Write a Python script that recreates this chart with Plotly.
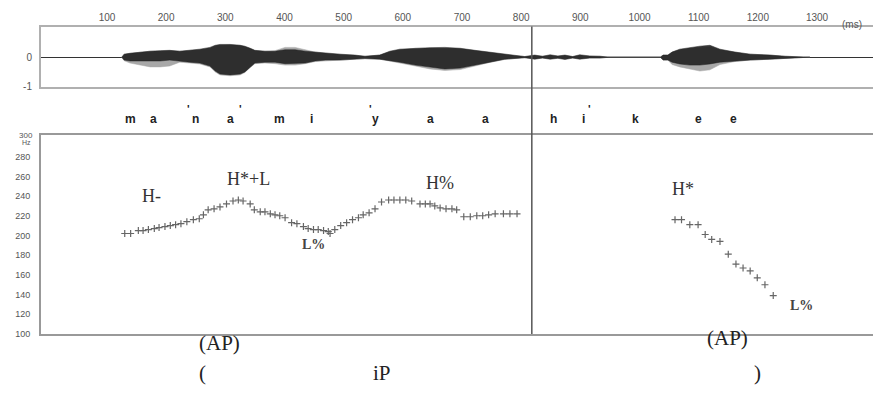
import plotly.graph_objects as go

W, H = 873, 407

# ---- time axis (ms) ----
time_ticks = [100, 200, 300, 400, 500, 600, 700, 800, 900, 1000, 1100, 1200, 1300]
x_range = [-11.5, 1394.6]
boundary_ms = 818  # intonation-phrase boundary

# ---- waveform envelope (ms, normalised amplitude) ----
wave_t = [125, 129, 139, 156, 173, 190, 206, 223, 240, 257, 274, 283, 291, 308, 325, 333,
          342, 350, 367, 384, 401, 418, 435, 452, 469, 494, 519, 536, 561, 578, 595, 621,
          646, 671, 697, 722, 747, 772, 789, 806, 823, 836, 849, 862, 874, 887, 899, 916,
          933, 950, 1035, 1040, 1048, 1055, 1068, 1085, 1102, 1119, 1136, 1161, 1187, 1220,
          1246, 1288]
dark_hi = [0, .10, .13, .17, .20, .22, .23, .20, .23, .27, .33, .40, .43, .43, .40, .37,
           .30, .23, .20, .20, .25, .25, .20, .17, .13, .10, .07, .03, .07, .20, .27, .30,
           .32, .33, .30, .23, .17, .10, .05, .02, .07, .03, .08, .04, .07, .02, .08, .04,
           .03, 0, 0, .07, .07, .17, .27, .33, .37, .40, .27, .17, .10, .07,
           .03, 0]
dark_lo = [0, -.10, -.13, -.13, -.13, -.13, -.10, -.13, -.17, -.20, -.30, -.47, -.57, -.60, -.57, -.50,
           -.33, -.20, -.17, -.17, -.22, -.22, -.20, -.13, -.10, -.10, -.07, -.05, -.07, -.13, -.17, -.27,
           -.33, -.40, -.37, -.27, -.17, -.07, -.05, -.02, -.07, -.03, -.07, -.04, -.08, -.03, -.07, -.03,
           -.03, 0, 0, -.10, -.10, -.17, -.23, -.27, -.27, -.23, -.17, -.13, -.10, -.07,
           -.03, 0]
light_hi = [0, .10, .13, .17, .20, .20, .22, .20, .22, .25, .30, .37, .40, .42, .40, .35,
            .30, .22, .20, .22, .33, .33, .25, .17, .13, .10, .07, .03, .07, .18, .25, .30,
            .30, .30, .28, .22, .15, .10, .05, .02, .05, .03, .05, .03, .05, .02, .05, .03,
            .03, 0, 0, .07, .07, .17, .25, .30, .33, .35, .25, .17, .10, .07,
            .03, 0]
light_lo = [0, -.12, -.20, -.27, -.33, -.33, -.30, -.17, -.20, -.23, -.33, -.50, -.60, -.63, -.60, -.52,
            -.35, -.22, -.20, -.22, -.27, -.27, -.22, -.15, -.12, -.10, -.07, -.05, -.07, -.15, -.20, -.30,
            -.40, -.45, -.42, -.30, -.18, -.08, -.05, -.02, -.05, -.03, -.05, -.03, -.05, -.03, -.05, -.03,
            -.03, 0, 0, -.10, -.10, -.25, -.33, -.40, -.47, -.43, -.25, -.15, -.10, -.07,
            -.03, 0]

# ---- F0 track (ms, Hz) ----
f0_t_a = [130, 140, 153, 161, 170, 180, 188, 198, 207, 216, 225, 235, 246, 256, 263, 271,
          281, 291, 302, 313, 322, 330, 342, 349, 359, 367, 376, 384, 392, 401, 412, 421,
          432, 440, 449, 457, 466, 474, 477, 485, 495, 505, 515, 525, 533, 543, 553, 564,
          576, 585, 595, 605, 615, 629, 638, 646, 654, 663, 673, 683, 691, 703, 714, 725,
          735, 745, 756, 770, 781, 793]
f0_hz_a = [202, 202, 205, 205, 206, 207, 208, 209, 210, 211, 212, 214, 216, 217, 221, 226,
           227, 229, 232, 235, 236, 235, 232, 226, 224, 224, 222, 221, 220, 218, 213, 212,
           209, 207, 206, 206, 205, 204, 202, 206, 210, 213, 216, 218, 221, 223, 227, 234,
           236, 236, 236, 236, 235, 232, 232, 232, 230, 228, 227, 227, 226, 219, 219, 220,
           220, 221, 222, 222, 222, 222]
f0_t_b = [1060, 1071, 1085, 1099, 1111, 1122, 1136, 1150, 1163, 1175, 1187, 1199, 1212, 1226]
f0_hz_b = [216, 216, 211, 211, 201, 196, 194, 181, 171, 167, 164, 157, 150, 139]
f0_ticks = list(range(100, 301, 20))

# ---- segmental transcription ----
seg_text = ["m", "a", "n", "a", "m", "i", "y", "a", "a", "h", "i", "k", "e", "e"]
seg_t = [139, 179, 249, 308, 392, 445, 553, 646, 739, 854, 905, 994, 1099, 1158]
stress_t = [237, 325, 545, 915]

# ---- tonal labels (ms, Hz) ----
tone_text = ["H-", "H*+L", "H%", "H*"]
tone_t = [176, 339, 663, 1073]
tone_hz = [240, 257, 253, 247]
bound_text = ["L%", "L%"]
bound_t = [449, 1274]
bound_hz = [191, 129]

# ---- prosodic phrasing ----
phrase_text = ["(AP)", "(AP)", "(", "iP", ")"]
phrase_t = [291, 1148, 261, 565, 1200]
phrase_py = [362, 357, 393, 393, 393]


def py(pixel_y):
    return 1 - pixel_y / H


fig = go.Figure()

# waveform: lighter channel underneath, darker on top
fig.add_trace(go.Scatter(
    x=wave_t + wave_t[::-1], y=light_hi + light_lo[::-1],
    fill="toself", fillcolor="#a8a8a8", line=dict(color="#a8a8a8", width=0.5),
    mode="lines", hoverinfo="skip", showlegend=False, xaxis="x", yaxis="y"))
fig.add_trace(go.Scatter(
    x=wave_t + wave_t[::-1], y=dark_hi + dark_lo[::-1],
    fill="toself", fillcolor="rgba(25,25,25,0.85)", line=dict(color="#222", width=0.5),
    mode="lines", hoverinfo="skip", showlegend=False, xaxis="x", yaxis="y"))

# F0 track
for tt, hz in ((f0_t_a, f0_hz_a), (f0_t_b, f0_hz_b)):
    fig.add_trace(go.Scatter(
        x=tt, y=hz, mode="markers",
        marker=dict(symbol="cross-thin", size=5, line=dict(color="#666", width=1.2)),
        showlegend=False, xaxis="x2", yaxis="y2"))

tick_font = dict(family="Arial", size=10, color="#555")
f0_font = dict(family="Arial", size=9, color="#555")

fig.update_layout(
    width=W, height=H,
    margin=dict(l=41, r=0, t=0, b=0),
    paper_bgcolor="white", plot_bgcolor="white",
    xaxis=dict(domain=[0, 1], range=x_range, anchor="y", side="top",
               tickvals=time_ticks, ticktext=[str(v) for v in time_ticks],
               tickfont=tick_font, ticks="", ticklabelstandoff=0,
               showgrid=False, zeroline=False,
               showline=True, mirror=True, linecolor="#b0b0b0", linewidth=2),
    yaxis=dict(domain=[py(88), py(27)], range=[-1, 1.033], anchor="x",
               tickvals=[0, -1], ticktext=["0", "-1"], tickfont=tick_font,
               ticks="", ticklabelstandoff=5, showgrid=False,
               zeroline=True, zerolinecolor="#333", zerolinewidth=1,
               showline=True, linecolor="#b0b0b0", linewidth=2),
    xaxis2=dict(domain=[0, 1], range=x_range, anchor="y2", matches="x",
                showticklabels=False, ticks="", showgrid=False, zeroline=False,
                showline=True, mirror=True, linecolor="#999", linewidth=2),
    yaxis2=dict(domain=[py(339), py(137)], range=[100, 302], anchor="x2",
                tickvals=f0_ticks[:-1],
                ticktext=[str(v) for v in f0_ticks[:-1]],
                tickfont=f0_font,
                ticks="", ticklabelstandoff=7, showgrid=False, zeroline=False,
                showline=True, linecolor="#999", linewidth=2),
)

# top F0 tick with its unit stacked underneath
fig.add_annotation(x=0, y=py(132), xref="paper", yref="paper", xanchor="right",
                   xshift=-7, text=str(f0_ticks[-1]), showarrow=False, borderpad=0,
                   font=dict(family="Arial", size=8, color="#555"))
fig.add_annotation(x=0, y=py(145), xref="paper", yref="paper", xanchor="right",
                   xshift=-9, text="Hz", showarrow=False, borderpad=0,
                   font=dict(family="Arial", size=7, color="#555"))

# phrase boundary line through both panels
fig.add_shape(type="line", xref="x", yref="paper",
              x0=boundary_ms, x1=boundary_ms, y0=py(339), y1=py(27),
              line=dict(color="#555", width=1.5))

fig.add_annotation(x=1359, y=py(17), xref="x", yref="paper", text="(ms)",
                   showarrow=False, font=tick_font)

for s, t in zip(seg_text, seg_t):
    fig.add_annotation(x=t, y=py(112), xref="x", yref="paper", text="<b>" + s + "</b>",
                       showarrow=False,
                       font=dict(family="Arial", size=12, color="#222"))
for t in stress_t:
    fig.add_annotation(x=t, y=py(103), xref="x", yref="paper", text="<b>'</b>",
                       showarrow=False,
                       font=dict(family="Arial", size=11, color="#222"))

serif = "Liberation Serif"
for s, t, hz in zip(tone_text, tone_t, tone_hz):
    fig.add_annotation(x=t, y=hz, xref="x2", yref="y2", text=s, showarrow=False,
                       font=dict(family=serif, size=18, color="#333"))
for s, t, hz in zip(bound_text, bound_t, bound_hz):
    fig.add_annotation(x=t, y=hz, xref="x2", yref="y2", text="<b>" + s + "</b>",
                       showarrow=False, font=dict(family=serif, size=14, color="#444"))
for s, t, p in zip(phrase_text, phrase_t, phrase_py):
    fig.add_annotation(x=t, y=py(p), xref="x", yref="paper", text=s, showarrow=False,
                       font=dict(family=serif, size=21, color="#222"))

fig.write_html("out.html")
